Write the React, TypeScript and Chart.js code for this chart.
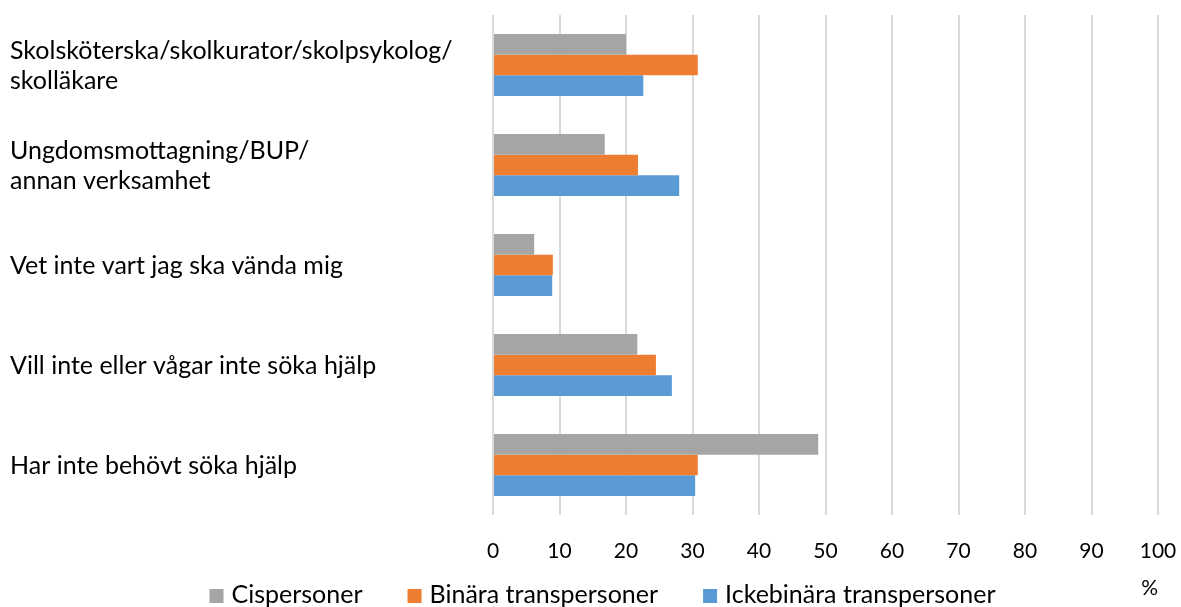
import React, { useEffect, useRef } from 'react';
import { Chart, registerables } from 'chart.js';

Chart.register(...registerables);

const categories: (string | string[])[] = [
  ['Skolsköterska/skolkurator/skolpsykolog/', 'skolläkare'],
  ['Ungdomsmottagning/BUP/', 'annan verksamhet'],
  'Vet inte vart jag ska vända mig',
  'Vill inte eller vågar inte söka hjälp',
  'Har inte behövt söka hjälp',
];
const seriesNames = ['Cispersoner', 'Binära transpersoner', 'Ickebinära transpersoner'];
const cispersoner = [20.0, 16.8, 6.2, 21.7, 48.9];
const binara = [30.8, 21.8, 9.0, 24.5, 30.8];
const ickebinara = [22.6, 28.0, 8.9, 26.9, 30.4];
const xMin = 0;
const xMax = 100;
const xStep = 10;
const axisUnit = '%';

const COLORS = ['#A5A5A5', '#ED7D31', '#5B9BD5'];
const FONT = 'Lato, "Open Sans", sans-serif';
const FS = 25;
const TICK_FS = 21;

const legendPlugin = {
  id: 'customLegend',
  afterDraw(chart: any) {
    const ctx = chart.ctx as CanvasRenderingContext2D;
    ctx.save();
    ctx.font = `${FS}px ${FONT}`;
    const box = 14;
    const boxGap = 8;
    const itemGap = 45;
    const items = chart.data.datasets.map((ds: any) => ({
      text: ds.label as string,
      color: ds.backgroundColor as string,
      w: ctx.measureText(ds.label).width,
    }));
    const total = items.reduce((s: number, it: any) => s + box + boxGap + it.w, 0) + itemGap * (items.length - 1);
    let x = chart.width / 2 + 12 - total / 2;
    const cy = chart.height - 12;
    ctx.textBaseline = 'middle';
    ctx.textAlign = 'left';
    for (const it of items) {
      ctx.fillStyle = it.color;
      ctx.fillRect(x, cy - box / 2 + 1, box, box);
      x += box + boxGap;
      ctx.fillStyle = '#000';
      ctx.fillText(it.text, x, cy);
      x += it.w + itemGap;
    }
    ctx.restore();
  },
};

export default function App() {
  const ref = useRef<HTMLCanvasElement>(null);
  useEffect(() => {
    if (!ref.current) return;
    const series = [cispersoner, binara, ickebinara];
    const chart = new Chart(ref.current, {
      type: 'bar',
      data: {
        labels: categories,
        datasets: seriesNames.map((name, i) => ({
          label: name,
          data: series[i],
          backgroundColor: COLORS[i],
          borderWidth: 0,
          categoryPercentage: 0.62,
          barPercentage: 1.0,
        })),
      },
      options: {
        indexAxis: 'y',
        animation: false,
        responsive: true,
        maintainAspectRatio: false,
        layout: { padding: { left: 10, right: 23, top: 15, bottom: 0 } },
        plugins: {
          legend: { display: false },
          tooltip: { enabled: false },
        },
        scales: {
          x: {
            min: xMin,
            max: xMax,
            ticks: {
              stepSize: xStep,
              color: '#000',
              padding: 0,
              font: { family: FONT, size: TICK_FS },
            },
            grid: {
              color: '#D9D9D9',
              lineWidth: 2,
              drawTicks: true,
              tickLength: 24,
              tickColor: 'rgba(0,0,0,0)',
            },
            border: { display: false },
            title: {
              display: true,
              text: axisUnit,
              align: 'end',
              color: '#000',
              font: { family: FONT, size: TICK_FS },
              padding: { top: 0, bottom: 6 },
            },
            afterFit: (scale: any) => {
              scale.height = 92;
            },
          },
          y: {
            ticks: {
              crossAlign: 'far',
              color: '#000',
              padding: 0,
              labelOffset: 1,
              font: { family: FONT, size: FS, lineHeight: 1.2 },
            },
            grid: { display: false },
            border: { display: false },
            afterFit: (scale: any) => {
              scale.width = 483;
            },
          },
        },
      },
      plugins: [legendPlugin],
    });
    return () => chart.destroy();
  }, []);
  return (
    <div style={{ position: 'fixed', left: 0, top: 0, width: 1181, height: 607, background: '#fff' }}>
      <canvas ref={ref} />
    </div>
  );
}
